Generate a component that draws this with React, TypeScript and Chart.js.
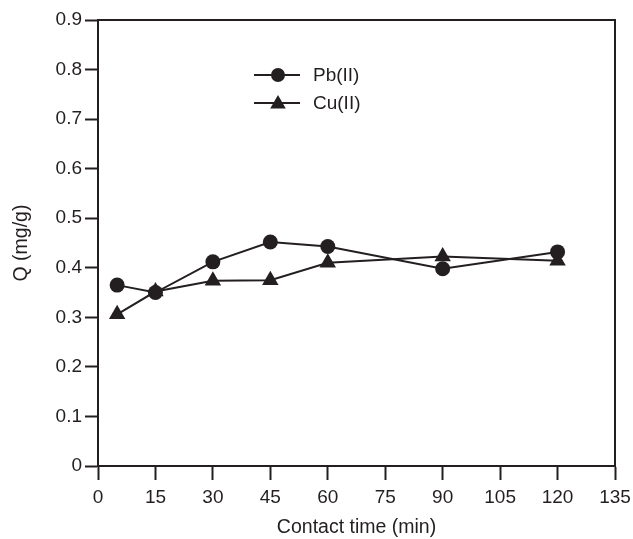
import React, { useEffect, useRef } from "react";
import { Chart, registerables } from "chart.js";

Chart.register(...registerables);

const contactTime = [5, 15, 30, 45, 60, 90, 120];
const pbValues = [0.365, 0.35, 0.412, 0.452, 0.443, 0.398, 0.432];
const cuValues = [0.306, 0.352, 0.374, 0.375, 0.41, 0.423, 0.414];
const xTickLabels = ["0", "15", "30", "45", "60", "75", "90", "105", "120", "135"];
const yTickLabels = ["0", "0.1", "0.2", "0.3", "0.4", "0.5", "0.6", "0.7", "0.8", "0.9"];
const seriesNames = ["Pb(II)", "Cu(II)"];

const INK = "#231f20";
const FONT = "'Liberation Sans', Arial, Helvetica, sans-serif";

const framePlugin = {
  id: "frame",
  afterDraw(chart: any) {
    const { ctx, chartArea } = chart;
    ctx.save();
    ctx.strokeStyle = INK;
    ctx.lineWidth = 2;
    ctx.strokeRect(chartArea.left, chartArea.top, chartArea.right - chartArea.left, chartArea.bottom - chartArea.top);
    ctx.restore();
  },
};

const legendPlugin = {
  id: "insideLegend",
  afterDraw(chart: any) {
    const { ctx, chartArea } = chart;
    const x0 = chartArea.left + 156;
    const y0 = chartArea.top + 55;
    const rowH = 28;
    chart.data.datasets.forEach((ds: any, i: number) => {
      const y = y0 + i * rowH;
      ctx.save();
      ctx.strokeStyle = INK;
      ctx.lineWidth = 2;
      ctx.beginPath();
      ctx.moveTo(x0, y);
      ctx.lineTo(x0 + 46, y);
      ctx.stroke();
      ctx.fillStyle = INK;
      ctx.beginPath();
      if (ds.pointStyle === "triangle") {
        const r = 9;
        const cx = x0 + 24;
        const cy = y + 1;
        ctx.moveTo(cx, cy - r);
        ctx.lineTo(cx + r * 0.866, cy + r * 0.5);
        ctx.lineTo(cx - r * 0.866, cy + r * 0.5);
        ctx.closePath();
      } else {
        ctx.arc(x0 + 24, y, 7, 0, Math.PI * 2);
      }
      ctx.fill();
      ctx.font = `19px ${FONT}`;
      ctx.textBaseline = "middle";
      ctx.textAlign = "left";
      ctx.fillText(ds.label, x0 + 59, y + 1);
      ctx.restore();
    });
  },
};

export default function App() {
  const ref = useRef<HTMLCanvasElement | null>(null);

  useEffect(() => {
    document.body.style.margin = "0";
    if (!ref.current) return;
    const chart = new Chart(ref.current, {
      type: "line",
      data: {
        datasets: [
          {
            label: seriesNames[0],
            data: contactTime.map((t, i) => ({ x: t, y: pbValues[i] })),
            borderColor: INK,
            backgroundColor: INK,
            borderWidth: 2,
            pointStyle: "circle",
            pointRadius: 7.5,
            pointBackgroundColor: INK,
            pointBorderColor: INK,
            pointBorderWidth: 0,
            tension: 0,
          },
          {
            label: seriesNames[1],
            data: contactTime.map((t, i) => ({ x: t, y: cuValues[i] })),
            borderColor: INK,
            backgroundColor: INK,
            borderWidth: 2,
            pointStyle: "triangle",
            pointRadius: 9.5,
            pointBackgroundColor: INK,
            pointBorderColor: INK,
            pointBorderWidth: 0,
            tension: 0,
          },
        ],
      },
      options: {
        animation: false,
        responsive: false,
        maintainAspectRatio: false,
        layout: { padding: { left: 0, right: 18, top: 20, bottom: 0 } },
        plugins: {
          legend: { display: false },
          tooltip: { enabled: false },
        },
        scales: {
          x: {
            type: "linear",
            min: 0,
            max: 135,
            afterFit: (s: any) => {
              s.height = 73;
              s.paddingLeft = 0;
              s.paddingRight = 0;
            },
            afterBuildTicks: (s: any) => {
              s.ticks = xTickLabels.map((l) => ({ value: Number(l) }));
            },
            ticks: {
              color: INK,
              font: { family: FONT, size: 19 },
              padding: 6,
              maxRotation: 0,
              autoSkip: false,
              callback: (_v: any, i: number) => xTickLabels[i],
            },
            grid: {
              drawOnChartArea: false,
              drawTicks: true,
              tickLength: 14,
              tickWidth: 2,
              tickColor: INK,
            },
            border: { display: true, color: INK, width: 2 },
            title: {
              display: true,
              text: "Contact time (min)",
              color: INK,
              font: { family: FONT, size: 19.5 },
              padding: { top: 0, bottom: 0 },
            },
          },
          y: {
            type: "linear",
            min: 0,
            max: 0.9,
            afterFit: (s: any) => {
              s.width = 98;
              s.paddingTop = 0;
              s.paddingBottom = 0;
            },
            afterBuildTicks: (s: any) => {
              s.ticks = yTickLabels.map((l) => ({ value: Number(l) }));
            },
            ticks: {
              color: INK,
              font: { family: FONT, size: 19 },
              padding: 3,
              autoSkip: false,
              callback: (_v: any, i: number) => yTickLabels[i],
            },
            grid: {
              drawOnChartArea: false,
              drawTicks: true,
              tickLength: 13,
              tickWidth: 2,
              tickColor: INK,
            },
            border: { display: true, color: INK, width: 2 },
            title: {
              display: true,
              text: "Q (mg/g)",
              color: INK,
              font: { family: FONT, size: 19.5 },
              padding: { top: 10, bottom: 0 },
            },
          },
        },
      },
      plugins: [framePlugin, legendPlugin],
    });
    return () => chart.destroy();
  }, []);

  return (
    <div style={{ width: 633, height: 539, background: "#fff" }}>
      <canvas ref={ref} width={633} height={539} style={{ display: "block" }} />
    </div>
  );
}
